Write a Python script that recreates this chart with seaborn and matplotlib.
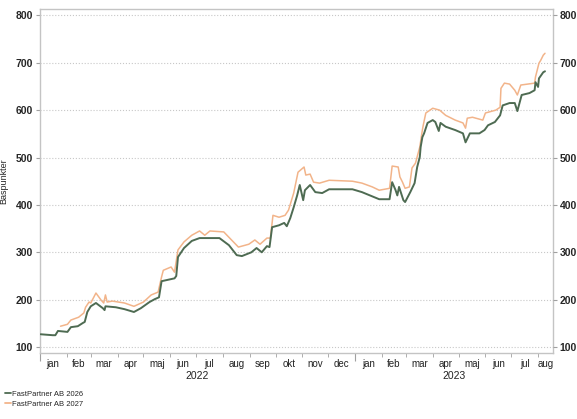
import numpy as np
import pandas as pd
import matplotlib
matplotlib.use('Agg')
import matplotlib.pyplot as plt
import seaborn as sns

# values (basis points)
dates_2026 = ['2022-01-02', '2022-01-16', '2022-01-19', '2022-01-22', '2022-02-02', '2022-02-06',
              '2022-02-14', '2022-02-20', '2022-02-22', '2022-02-25', '2022-03-01', '2022-03-07',
              '2022-03-15', '2022-03-17', '2022-03-18', '2022-03-30', '2022-04-09', '2022-04-20',
              '2022-04-28', '2022-05-08', '2022-05-14', '2022-05-19', '2022-05-22', '2022-06-06',
              '2022-06-08', '2022-06-10', '2022-06-17', '2022-06-26', '2022-07-05', '2022-07-13',
              '2022-07-28', '2022-08-08', '2022-08-17', '2022-08-23', '2022-09-03', '2022-09-09',
              '2022-09-15', '2022-09-21', '2022-09-24', '2022-09-27', '2022-10-05', '2022-10-11',
              '2022-10-14', '2022-10-18', '2022-10-22', '2022-10-26', '2022-10-29', '2022-11-02',
              '2022-11-04', '2022-11-10', '2022-11-16', '2022-11-24', '2022-12-02', '2022-12-29',
              '2023-01-09', '2023-01-21', '2023-01-29', '2023-02-10', '2023-02-13', '2023-02-17',
              '2023-02-19', '2023-02-21', '2023-02-26', '2023-02-28', '2023-03-06', '2023-03-11',
              '2023-03-14', '2023-03-17', '2023-03-18', '2023-03-20', '2023-03-22', '2023-03-26',
              '2023-04-01', '2023-04-04', '2023-04-08', '2023-04-10', '2023-04-16', '2023-04-27',
              '2023-05-06', '2023-05-09', '2023-05-14', '2023-05-25', '2023-05-31', '2023-06-04',
              '2023-06-12', '2023-06-18', '2023-06-21', '2023-06-29', '2023-07-05', '2023-07-08',
              '2023-07-13', '2023-07-22', '2023-07-28', '2023-07-29', '2023-08-01', '2023-08-02',
              '2023-08-07', '2023-08-09']
values_2026 = [127, 125, 125, 134, 132, 142,
               144, 151, 153, 174, 186, 193,
               182, 178, 186, 184, 180, 174,
               182, 195, 201, 205, 239, 245,
               250, 290, 309, 324, 330, 330,
               330, 315, 294, 292, 300, 309,
               300, 313, 311, 353, 357, 362,
               355, 372, 395, 420, 442, 410,
               431, 442, 427, 425, 433, 433,
               427, 418, 412, 412, 448, 431,
               420, 438, 410, 406, 427, 446,
               480, 501, 522, 543, 551, 573,
               579, 575, 556, 573, 565, 558,
               551, 532, 551, 551, 558, 568,
               575, 589, 610, 615, 615, 598,
               632, 636, 642, 659, 649, 667,
               680, 682]

dates_2027 = ['2022-01-25', '2022-02-02', '2022-02-06', '2022-02-15', '2022-02-21', '2022-02-23',
              '2022-02-27', '2022-03-01', '2022-03-07', '2022-03-13', '2022-03-16', '2022-03-18',
              '2022-03-20', '2022-03-26', '2022-04-09', '2022-04-20', '2022-05-01', '2022-05-10',
              '2022-05-18', '2022-05-22', '2022-05-24', '2022-06-02', '2022-06-06', '2022-06-10',
              '2022-06-17', '2022-06-26', '2022-07-05', '2022-07-11', '2022-07-17', '2022-08-02',
              '2022-08-11', '2022-08-19', '2022-08-31', '2022-09-07', '2022-09-13', '2022-09-21',
              '2022-09-25', '2022-09-28', '2022-10-05', '2022-10-12', '2022-10-16', '2022-10-22',
              '2022-10-27', '2022-11-03', '2022-11-05', '2022-11-10', '2022-11-14', '2022-11-21',
              '2022-12-02', '2022-12-29', '2023-01-09', '2023-01-21', '2023-01-29', '2023-02-10',
              '2023-02-13', '2023-02-20', '2023-02-22', '2023-02-25', '2023-02-28', '2023-03-05',
              '2023-03-08', '2023-03-12', '2023-03-17', '2023-03-20', '2023-03-21', '2023-03-24',
              '2023-04-01', '2023-04-09', '2023-04-16', '2023-04-27', '2023-05-06', '2023-05-09',
              '2023-05-11', '2023-05-17', '2023-05-29', '2023-06-01', '2023-06-13', '2023-06-18',
              '2023-06-19', '2023-06-23', '2023-06-29', '2023-07-05', '2023-07-08', '2023-07-12',
              '2023-07-28', '2023-07-29', '2023-08-02', '2023-08-04', '2023-08-07', '2023-08-09']
values_2027 = [144, 148, 157, 163, 172, 184,
               195, 193, 214, 199, 193, 210,
               195, 197, 193, 186, 195, 210,
               216, 248, 262, 269, 258, 305,
               322, 336, 345, 336, 345, 343,
               326, 311, 317, 326, 317, 330,
               330, 378, 374, 378, 389, 425,
               469, 480, 463, 465, 448, 446,
               452, 450, 446, 438, 431, 435,
               482, 480, 459, 448, 435, 438,
               478, 488, 522, 558, 568, 594,
               604, 600, 589, 579, 573, 562,
               583, 585, 579, 594, 600, 606,
               646, 657, 655, 642, 632, 653,
               657, 670, 699, 705, 716, 720]

series_names = ['FastPartner AB 2026', 'FastPartner AB 2027']
series_colors = ['#4e6b52', '#f2b48a']
month_names = ['jan', 'feb', 'mar', 'apr', 'maj', 'jun', 'jul', 'aug', 'sep', 'okt', 'nov', 'dec']
y_ticks = [100, 200, 300, 400, 500, 600, 700, 800]

x_start = pd.Timestamp('2022-01-01')
x_end = pd.Timestamp('2023-08-18')

df = pd.concat([
    pd.DataFrame({'date': pd.to_datetime(dates_2026), 'bp': values_2026, 'serie': series_names[0]}),
    pd.DataFrame({'date': pd.to_datetime(dates_2027), 'bp': values_2027, 'serie': series_names[1]}),
])

sns.set_style('white')
plt.rcParams['font.family'] = ['Liberation Sans', 'DejaVu Sans']

fig = plt.figure(figsize=(5.77, 4.19), dpi=100)
ax = fig.add_axes([0.069, 0.157, 0.889, 0.821])

sns.lineplot(data=df, x='date', y='bp', hue='serie', hue_order=series_names,
             palette=series_colors, linewidth=1.3, ax=ax, legend=False)
for line, lw in zip(ax.lines, [1.4, 1.1]):
    line.set_linewidth(lw)
# green on top of orange
ax.lines[0].set_zorder(3)

ax.set_xlim(x_start, x_end)
ax.set_ylim(87, 813)
ax.set_yticks(y_ticks)
ax.set_yticklabels([str(v) for v in y_ticks], fontweight='bold', fontsize=7.5)
ax.set_xlabel('')
ax.set_ylabel('Baspunkter', fontsize=6.5, labelpad=5)
ax.yaxis.grid(True, linestyle=':', color='#c8c8c8', linewidth=0.8)
ax.xaxis.grid(False)

for sp in ax.spines.values():
    sp.set_color('#c4c4c4')
    sp.set_linewidth(1.0)
ax.tick_params(axis='y', which='both', direction='out', length=3, color='#a0a0a0', pad=2, left=True)

# right axis copy
ax2 = ax.twinx()
ax2.set_ylim(ax.get_ylim())
ax2.set_yticks(y_ticks)
ax2.set_yticklabels([str(v) for v in y_ticks], fontweight='bold', fontsize=7.5)
ax2.tick_params(axis='y', direction='out', length=3, color='#a0a0a0', pad=2, right=True)
for sp in ax2.spines.values():
    sp.set_visible(False)

# month ticks / labels
month_starts = pd.date_range(x_start, x_end, freq='MS')
year_starts = [d for d in month_starts if d.month == 1]
other_starts = [d for d in month_starts if d.month != 1]
ax.set_xticks(year_starts)
ax.set_xticklabels([])
ax.set_xticks(other_starts, minor=True)
ax.tick_params(axis='x', which='major', direction='out', length=6, color='#a0a0a0', bottom=True)
ax.tick_params(axis='x', which='minor', direction='out', length=3, color='#a0a0a0', bottom=True)

trans = ax.get_xaxis_transform()
bounds = list(month_starts) + [x_end]
for i, m in enumerate(month_starts):
    a = max(m, x_start)
    b = min(bounds[i + 1], x_end)
    mid = a + (b - a) / 2
    ax.text(mid, -0.018, month_names[m.month - 1], transform=trans, ha='center', va='top',
            fontsize=7, color='#222222')

for y in sorted(set(d.year for d in month_starts)):
    a = max(pd.Timestamp(f'{y}-01-01'), x_start)
    b = min(pd.Timestamp(f'{y + 1}-01-01'), x_end)
    mid = a + (b - a) / 2
    ax.text(mid, -0.052, str(y), transform=trans, ha='center', va='top',
            fontsize=7.5, color='#222222')

handles = [plt.Line2D([], [], color=c, linewidth=1.3) for c in series_colors]
fig.legend(handles, series_names, loc='lower left', bbox_to_anchor=(0.0, 0.015),
           frameon=False, fontsize=5.5, handlelength=0.9, handletextpad=0.1,
           labelspacing=0.35, borderaxespad=0.2)

fig.savefig('out.png', dpi=100)
